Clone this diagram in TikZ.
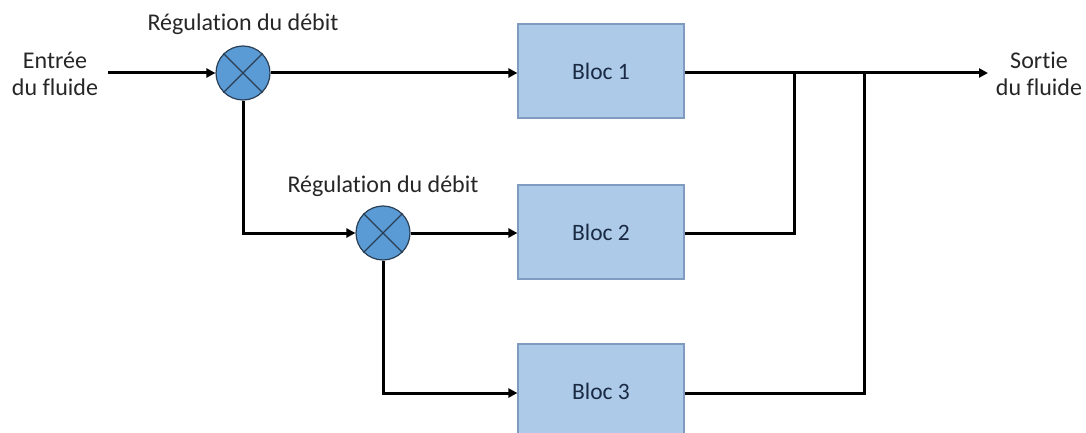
\documentclass[tikz,border=0pt]{standalone}
\usepackage{fontspec}
\setmainfont[Ligatures={NoCommon}]{Carlito}
\usetikzlibrary{arrows.meta}
\definecolor{boxfill}{HTML}{ADCBE8}
\definecolor{boxline}{HTML}{7F9CC0}
\definecolor{valvefill}{HTML}{5B9BD5}
\definecolor{valveline}{HTML}{2A3F55}
\definecolor{boxtext}{HTML}{1A2A44}
\tikzset{
  blocbox/.style={draw=boxline, line width=1.2pt, fill=boxfill, minimum width=166pt, minimum height=94pt, inner sep=0pt, font=\fontsize{23.5}{28}\selectfont, text=boxtext},
  valve/.style={circle, draw=valveline, line width=1.2pt, fill=valvefill, minimum size=54pt, inner sep=0pt},
  flow/.style={line width=3pt, -{Triangle[length=9pt,width=9pt]}},
  pipe/.style={line width=3pt},
  lbl/.style={font=\fontsize{24}{27}\selectfont, text=black!85, align=center, inner sep=0pt}
}
\begin{document}
\begin{tikzpicture}[x=1pt,y=-1pt]
\useasboundingbox (0,0) rectangle (1086,433);
\begin{scope}
\clip (0,0) rectangle (1086,433);
\node[valve] (v1) at (243,73) {};
\draw[valveline, line width=1.2pt] (v1.north west) -- (v1.south east) (v1.north east) -- (v1.south west);
\node[valve] (v2) at (383,233) {};
\draw[valveline, line width=1.2pt] (v2.north west) -- (v2.south east) (v2.north east) -- (v2.south west);
\node[blocbox] (b1) at (601,71) {Bloc 1};
\node[blocbox] (b2) at (601,232) {Bloc 2};
\node[blocbox] (b3) at (601,391) {Bloc 3};
\node[lbl] (in) at (55,74) {Entrée\\du fluide};
\node[lbl] (out) at (1039,74) {Sortie\\du fluide};
\node[lbl] (r1) at (243,24) {Régulation du débit};
\node[lbl] (r2) at (383,186) {Régulation du débit};
\coordinate (inS) at (108,73);
\coordinate (outE) at (988,73);
\coordinate (j2) at (794,73);
\coordinate (j3) at (864,73);
\draw[flow] (inS) -- (v1.west);
\draw[flow] (v1.east) -- (b1.west |- v1.east);
\draw[flow] (v1.south) |- (v2.west);
\draw[flow] (v2.east) -- (b2.west |- v2.east);
\draw[flow] (v2.south) |- (b3.west |- 0,393);
\draw[flow] (b1.east |- 0,73) -- (outE);
\draw[pipe] (b2.east |- 0,233) -| (j2);
\draw[pipe] (b3.east |- 0,393) -| (j3);
\end{scope}
\end{tikzpicture}
\end{document}
